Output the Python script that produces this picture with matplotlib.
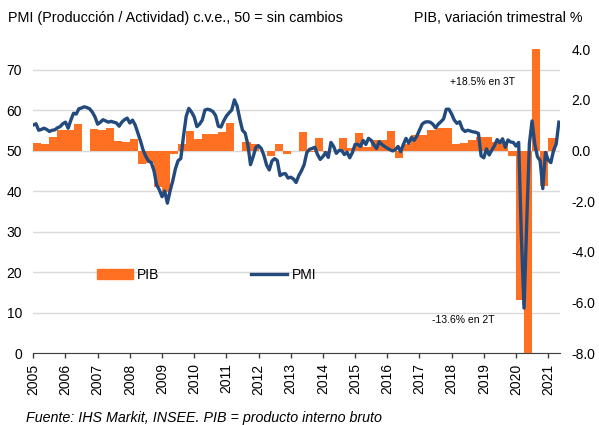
import numpy as np
import matplotlib
matplotlib.use('Agg')
import matplotlib.pyplot as plt
from matplotlib.ticker import FormatStrFormatter

plt.rcParams['font.family'] = ['Liberation Sans', 'DejaVu Sans']
plt.rcParams['axes.unicode_minus'] = False

start_year = 2005
years = list(range(2005, 2022))

# PMI compuesto, mensual desde ene-2005 hasta may-2021
pmi = [
    56.3, 56.6, 55.0, 55.2, 55.5, 55.2, 54.7, 55.0, 55.1, 55.6, 55.9, 56.6,  # 2005
    57.0, 55.5, 57.5, 59.2, 59.0, 60.3, 60.5, 60.8, 60.6, 60.3, 59.5, 58.3,  # 2006
    56.5, 57.0, 57.6, 57.3, 57.0, 57.2, 57.0, 56.8, 56.0, 57.0, 57.6, 58.0,  # 2007
    56.8, 57.5, 56.3, 54.3, 52.3, 50.0, 48.5, 47.4, 47.0, 45.0, 41.5, 40.3,  # 2008
    38.6, 40.0, 37.0, 40.0, 42.5, 45.5, 47.5, 48.0, 53.5, 58.4, 60.4, 59.5,  # 2009
    58.3, 55.9, 56.5, 57.5, 60.0, 60.2, 60.0, 59.6, 58.6, 56.0, 55.8, 57.3,  # 2010
    58.5, 59.3, 60.0, 62.5, 61.0, 57.8, 55.0, 54.3, 51.5, 46.5, 48.5, 50.8,  # 2011
    51.2, 50.5, 48.8, 46.4, 45.2, 47.4, 48.0, 47.5, 43.8, 44.2, 44.3, 43.2,  # 2012
    43.4, 43.0, 42.1, 43.8, 45.0, 46.5, 49.5, 50.3, 50.5, 50.8, 49.0, 47.8,  # 2013
    48.5, 49.5, 48.3, 52.0, 51.0, 49.3, 50.0, 50.0, 49.0, 49.6, 48.2, 49.5,  # 2014
    51.5, 51.5, 51.0, 52.5, 51.5, 53.0, 52.5, 51.4, 50.5, 52.2, 51.5, 51.0,  # 2015
    50.6, 50.2, 49.9, 50.2, 51.0, 49.7, 51.5, 53.0, 51.8, 53.2, 52.5, 53.5,  # 2016
    55.0, 56.5, 57.0, 57.1, 57.0, 56.5, 55.6, 56.5, 57.1, 57.8, 60.2, 60.2,  # 2017
    59.0, 57.5, 56.7, 57.1, 55.3, 54.7, 55.0, 54.8, 54.6, 54.5, 54.2, 48.7,  # 2018
    48.2, 50.4, 48.9, 50.1, 51.2, 52.7, 51.9, 52.9, 50.8, 52.6, 52.1, 52.0,  # 2019
    51.1, 52.0, 28.9, 11.1, 32.1, 51.7, 57.3, 51.6, 48.5, 47.5, 40.6, 49.5,  # 2020
    47.7, 47.0, 50.0, 51.6, 57.0,                                            # 2021
]

# PIB, variación trimestral %, 1T-2005 a 1T-2021
pib = [
    0.30, 0.25, 0.55, 0.80,    # 2005
    0.80, 1.05, 0.00, 0.85,    # 2006
    0.80, 0.88, 0.39, 0.32,    # 2007
    0.46, -0.52, -0.50, -1.44,  # 2008
    -1.64, -0.13, 0.26, 0.79,  # 2009
    0.46, 0.66, 0.65, 0.72,    # 2010
    1.07, 0.00, 0.35, 0.25,    # 2011
    0.00, -0.20, 0.25, -0.15,  # 2012
    0.00, 0.72, -0.05, 0.50,   # 2013
    -0.05, 0.00, 0.50, 0.10,   # 2014
    0.70, 0.15, 0.40, 0.40,    # 2015
    0.76, -0.29, 0.26, 0.63,   # 2016
    0.63, 0.81, 0.87, 0.87,    # 2017
    0.26, 0.30, 0.40, 0.55,    # 2018
    0.55, 0.35, 0.30, -0.20,   # 2019
    -5.9, -13.6, 18.5, -1.4,   # 2020
    0.50,                      # 2021
]

orange = '#FF7022'
blue = '#234A7C'

pmi_x = start_year + np.arange(len(pmi)) / 12
pib_x = start_year + np.arange(len(pib)) / 4

fig = plt.figure(figsize=(5.99, 4.25), dpi=100)
ax = fig.add_axes([0.0556, 0.1694, 0.8794, 0.7147])
ax2 = ax.twinx()
ax3 = ax.twinx()

# eje izquierdo: escala PMI y cuadricula
ax.set_ylim(0, 75)
ax.set_yticks(range(0, 80, 10))
ax.grid(axis='y', color='#d9d9d9', lw=1)
ax.set_axisbelow(True)
ax.set_xlim(2005, 2021.37)
ax.set_xticks(years)
ax.set_xticklabels([str(y) for y in years], rotation=90)
ax.tick_params(axis='y', length=0, pad=8, labelsize=10)
ax.tick_params(axis='x', direction='out', length=3.5, width=1, color='#404040',
               pad=4, labelsize=10)
for s in ['top', 'left', 'right']:
    ax.spines[s].set_visible(False)
ax.spines['bottom'].set_color('#404040')

# PIB en el eje derecho
ax2.bar(pib_x, pib, width=0.25, align='edge', color=orange, linewidth=0)
ax2.set_ylim(-8, 4)
ax2.set_yticks(np.arange(-8, 5, 2))
ax2.yaxis.set_major_formatter(FormatStrFormatter('%.1f'))
ax2.tick_params(axis='y', length=0, pad=8, labelsize=10)
for s in ax2.spines.values():
    s.set_visible(False)

# PMI encima de las barras
ax3.plot(pmi_x, pmi, color=blue, lw=2.4, solid_joinstyle='round')
ax3.set_ylim(0, 75)
ax3.set_xlim(ax.get_xlim())
ax3.axis('off')

ax3.text(2017.95, 66.9, '+18.5% en 3T', fontsize=7.5, va='center', ha='left')
ax3.text(2017.39, 8.1, '-13.6% en 2T', fontsize=7.5, va='center', ha='left')

h1 = plt.Rectangle((0, 0), 1, 1, color=orange)
h2 = plt.Line2D([], [], color=blue, lw=2.4)
fig.legend([h1, h2], ['PIB', 'PMI'], loc='center left',
           bbox_to_anchor=(0.162, 0.353), ncol=2, frameon=False, fontsize=10,
           handlelength=2.6, handletextpad=0.3, columnspacing=6.6,
           borderpad=0, borderaxespad=0)

fig.text(8 / 599, 1 - 18 / 425, 'PMI (Producción / Actividad) c.v.e., 50 = sin cambios',
         fontsize=10.4, va='center', ha='left')
fig.text(583 / 599, 1 - 18 / 425, 'PIB, variación trimestral %',
         fontsize=10.3, va='center', ha='right')
fig.text(26 / 599, 7 / 425, 'Fuente: IHS Markit, INSEE. PIB = producto interno bruto',
         fontsize=10.3, style='italic', va='center', ha='left')

fig.savefig('out.png', dpi=100)
